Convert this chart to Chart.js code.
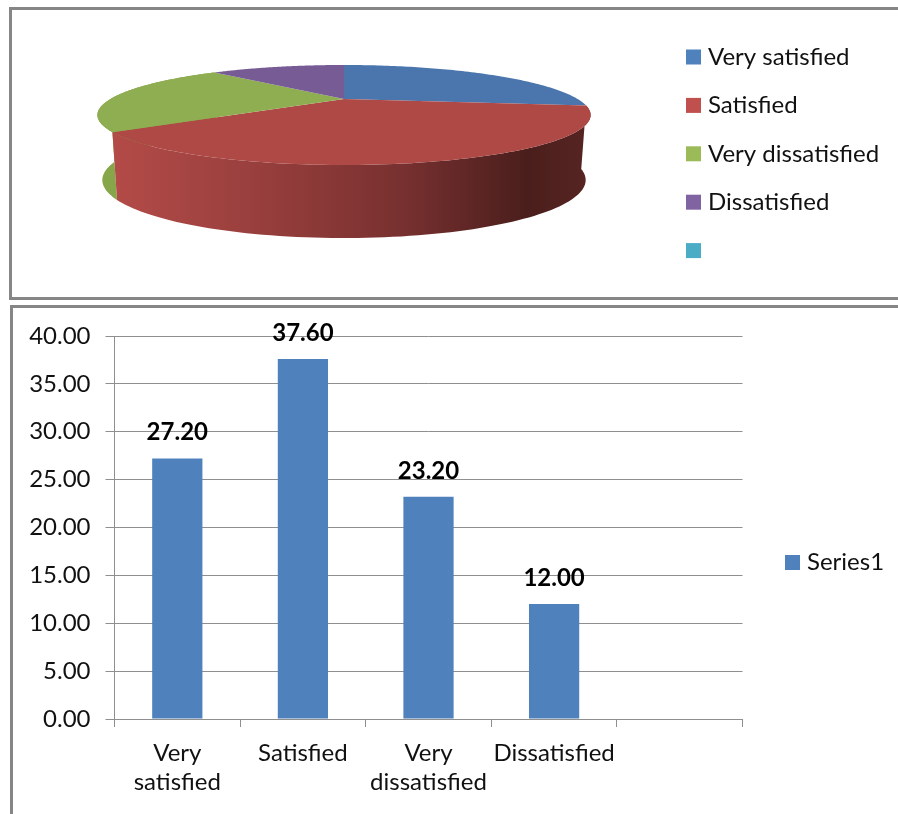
<!DOCTYPE html>
<html>
<head>
<meta charset="utf-8">
<title>Satisfaction survey</title>
<script src="https://cdn.jsdelivr.net/npm/chart.js@4"></script>
<style>
  html, body { margin: 0; padding: 0; background: #fff; overflow: hidden; }
  .frame { position: absolute; border: 3px solid #868686; box-sizing: border-box; }
  #pieFrame { left: 9px; top: 7px; width: 900px; height: 293px; }
  #barFrame { left: 10px; top: 305px; width: 900px; height: 520px; }
  .box { position: absolute; left: 0; width: 898px; }
  #pieBox { top: 0; height: 300px; }
  #barBox { top: 300px; height: 514px; }
</style>
</head>
<body>
<div class="frame" id="pieFrame"></div>
<div class="frame" id="barFrame"></div>
<div class="box" id="pieBox"><canvas id="pieChart"></canvas></div>
<div class="box" id="barBox"><canvas id="barChart"></canvas></div>

<script>
// Survey data
const pieLabels = ['Very satisfied', 'Satisfied', 'Very dissatisfied', 'Dissatisfied', ''];
const pieValues = [34, 47, 29, 15];
const pieTopColors = ['#4a76ad', '#af4946', '#8fad51', '#765b94'];
const pieKeyColors = ['#4f81bd', '#c0504d', '#9bbb59', '#8064a2', '#4bacc6'];

const barLabels = [['Very', 'satisfied'], 'Satisfied', ['Very', 'dissatisfied'], 'Dissatisfied', ''];
const barValues = [27.2, 37.6, 23.2, 12.0, null];
const barSeriesName = 'Series1';

const FONT = 'Lato, Carlito, "Open Sans", sans-serif';
const TEXT_SIZE = 24;
const GRID = '#8f8f8f';

Chart.defaults.animation = false;
Chart.defaults.responsive = true;
Chart.defaults.maintainAspectRatio = false;
Chart.defaults.font.family = FONT;
Chart.defaults.font.size = TEXT_SIZE;
Chart.defaults.color = '#111';

// Small colour key, the label sits closer to the swatch than the stock legend allows
function keyPlugin(items, x, firstY, stepY) {
  return {
    id: 'colorKey',
    afterDraw(chart) {
      const ctx = chart.ctx;
      ctx.save();
      ctx.font = TEXT_SIZE + 'px ' + FONT;
      ctx.textBaseline = 'middle';
      items.forEach((item, i) => {
        const y = firstY + i * stepY;
        ctx.fillStyle = item.color;
        ctx.fillRect(x, y - 7.5, 15, 15);
        if (item.text) {
          ctx.fillStyle = '#111';
          ctx.fillText(item.text, x + 22, y);
        }
      });
      ctx.restore();
    }
  };
}

// Tilted pie: turns the arc angles into a perspective disc with a wall under it
const PERSPECTIVE = 0.32;
const STRETCH_X = 2.36;
const STRETCH_Y = 0.4535;

function rimPoint(arc, angle) {
  const u = Math.cos(angle);
  const v = Math.sin(angle);
  const w = 1 - PERSPECTIVE * v;
  return {
    x: arc.x + arc.outerRadius * STRETCH_X * u / w,
    y: arc.y + arc.outerRadius * STRETCH_Y * v / w
  };
}

function floorPoint(arc, p) {
  // the lower rim is a little narrower and deeper than the upper one
  const midY = arc.y + arc.outerRadius * 0.162;
  return {
    x: arc.x + (p.x - arc.x) * 0.98,
    y: midY + arc.outerRadius * 0.657 + (p.y - midY) * 1.16
  };
}

function rimPath(arc) {
  const pts = [];
  const n = 90;
  for (let i = 0; i <= n; i++) {
    pts.push(rimPoint(arc, arc.startAngle + (arc.endAngle - arc.startAngle) * i / n));
  }
  return pts;
}

const tiltedPie = {
  id: 'tiltedPie',
  beforeDatasetsDraw(chart) {
    const ctx = chart.ctx;
    const arcs = chart.getDatasetMeta(0).data;
    const left = arcs[0].x - 230;
    const wall = ctx.createLinearGradient(left, 0, left + 476, 0);
    wall.addColorStop(0, '#b34b48');
    wall.addColorStop(0.3, '#983f3d');
    wall.addColorStop(0.6, '#783130');
    wall.addColorStop(0.87, '#4a1e1c');
    wall.addColorStop(1, '#572523');
    const wallColors = [null, wall, '#87a549', null];

    // walls first, green behind red, then the top faces over them
    [2, 1].forEach(i => {
      const pts = rimPath(arcs[i]);
      ctx.beginPath();
      pts.forEach((p, k) => (k ? ctx.lineTo(p.x, p.y) : ctx.moveTo(p.x, p.y)));
      pts.slice().reverse().forEach(p => {
        const f = floorPoint(arcs[i], p);
        ctx.lineTo(f.x, f.y);
      });
      ctx.closePath();
      ctx.fillStyle = wallColors[i];
      ctx.fill();
    });

    arcs.forEach((arc, i) => {
      if (i >= pieValues.length) return;
      ctx.beginPath();
      ctx.moveTo(arc.x, arc.y);
      rimPath(arc).forEach(p => ctx.lineTo(p.x, p.y));
      ctx.closePath();
      ctx.fillStyle = pieTopColors[i];
      ctx.fill();
    });
    return false;
  },
  afterDatasetsDraw(chart) {
    // value labels, offsets from the disc centre in units of the chart radius
    const ctx = chart.ctx;
    const arc = chart.getDatasetMeta(0).data[0];
    const offsets = [[1.71, -0.48], [0.37, 0.40], [-1.43, -0.06], [-0.67, -0.60]];
    ctx.save();
    ctx.font = 'bold ' + TEXT_SIZE + 'px ' + FONT;
    ctx.fillStyle = '#000';
    ctx.textAlign = 'center';
    ctx.textBaseline = 'middle';
    pieValues.forEach((value, i) => {
      ctx.fillText(String(value), arc.x + offsets[i][0] * arc.outerRadius, arc.y + offsets[i][1] * arc.outerRadius);
    });
    ctx.restore();
  }
};

new Chart(document.getElementById('pieChart'), {
  type: 'pie',
  data: {
    labels: pieLabels,
    datasets: [{ data: pieValues, backgroundColor: pieTopColors, borderWidth: 0 }]
  },
  options: {
    layout: { padding: { left: 0, right: 210, top: 0, bottom: 102 } },
    plugins: { legend: { display: false }, tooltip: { enabled: false } }
  },
  plugins: [
    tiltedPie,
    keyPlugin(pieLabels.map((text, i) => ({ text, color: pieKeyColors[i] })), 686, 57, 48.4)
  ]
});

// Value printed above each bar
const barValueLabels = {
  id: 'barValueLabels',
  afterDatasetsDraw(chart) {
    const ctx = chart.ctx;
    ctx.save();
    ctx.font = 'bold ' + TEXT_SIZE + 'px ' + FONT;
    ctx.fillStyle = '#000';
    ctx.textAlign = 'center';
    ctx.textBaseline = 'middle';
    chart.getDatasetMeta(0).data.forEach((bar, i) => {
      if (barValues[i] === null) return;
      ctx.fillText(barValues[i].toFixed(2), bar.x, bar.y - 26);
    });
    ctx.restore();
  }
};

new Chart(document.getElementById('barChart'), {
  type: 'bar',
  data: {
    labels: barLabels,
    datasets: [{
      label: barSeriesName,
      data: barValues,
      backgroundColor: '#4f81bd',
      barPercentage: 0.4,
      categoryPercentage: 1
    }]
  },
  options: {
    layout: { padding: { left: 0, right: 155.5, top: 36, bottom: 0 } },
    plugins: { legend: { display: false }, tooltip: { enabled: false } },
    scales: {
      x: {
        afterFit: scale => { scale.height = 95; },
        grid: { offset: true, drawOnChartArea: false, drawTicks: true, tickLength: 8, color: GRID },
        border: { color: GRID },
        ticks: { padding: 12, maxRotation: 0, autoSkip: false, color: '#111' }
      },
      y: {
        min: 0,
        max: 40,
        afterFit: scale => { scale.width = 114.5; },
        grid: { color: GRID, tickLength: 9 },
        border: { color: GRID },
        ticks: { stepSize: 5, padding: 15, color: '#111', callback: v => v.toFixed(2) }
      }
    }
  },
  plugins: [
    barValueLabels,
    keyPlugin([{ text: barSeriesName, color: '#4f81bd' }], 785, 262.5, 0)
  ]
});
</script>
</body>
</html>
